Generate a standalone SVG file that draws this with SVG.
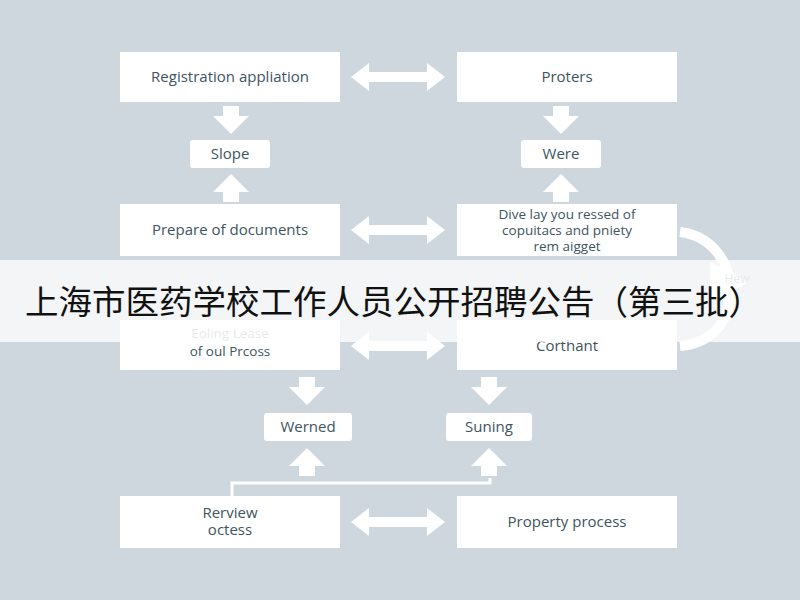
<svg xmlns="http://www.w3.org/2000/svg" width="800" height="600" viewBox="0 0 800 600">
<style>
.b{fill:#fff}
.t{font-family:"Open Sans","Liberation Sans",sans-serif;font-size:15px;fill:#3d5560;text-anchor:middle}
.s{font-size:13.5px}
.a{fill:#fff}
</style>
<defs>
<path id="dn" d="M-8,-16h16v10h10l-18,18l-18,-18h10z"/>
<path id="up" d="M-8,16h16v-10h10l-18,-18l-18,18h10z"/>
<path id="lr" d="M-47,0l18,-14v9h58v-9l18,14l-18,14v-9h-58v9z"/>
</defs>
<rect width="800" height="600" fill="#cfd7de"/>
<g id="connectors">
<use href="#lr" class="a" x="398" y="77"/>
<use href="#lr" class="a" x="398" y="230"/>
<use href="#lr" class="a" x="398" y="346"/>
<use href="#lr" class="a" x="398" y="522"/>
<use href="#dn" class="a" x="231" y="122"/>
<use href="#dn" class="a" x="561" y="122"/>
<use href="#up" class="a" x="231" y="186"/>
<use href="#up" class="a" x="561" y="186"/>
<use href="#dn" class="a" x="307" y="393"/>
<use href="#dn" class="a" x="489" y="393"/>
<use href="#up" class="a" x="307" y="460"/>
<use href="#up" class="a" x="489" y="460"/>
<path d="M232,496V483H490V478" fill="none" stroke="#fff" stroke-width="3"/>
<path d="M680,232C745,240 750,340 680,346" fill="none" stroke="#fff" stroke-width="10"/>
<path d="M710,262l40,20l-40,20z" fill="#fff"/>
<text x="737" y="283" class="t" style="font-size:12px;fill:#9aaab3">Hew</text>
</g>
<g id="n1"><rect class="b" x="120" y="52" width="220" height="50"/><text class="t" x="230" y="82">Registration appliation</text></g>
<g id="n2"><rect class="b" x="457" y="52" width="220" height="50"/><text class="t" x="567" y="82">Proters</text></g>
<g id="n3"><rect class="b" x="190" y="140" width="80" height="28" rx="3"/><text class="t" x="230" y="159">Slope</text></g>
<g id="n4"><rect class="b" x="521" y="140" width="80" height="28" rx="3"/><text class="t" x="561" y="159">Were</text></g>
<g id="n5"><rect class="b" x="120" y="204" width="220" height="52"/><text class="t" x="230" y="235">Prepare of documents</text></g>
<g id="n6"><rect class="b" x="457" y="204" width="220" height="52"/><text class="t s" x="567" y="219">Dive lay you ressed of</text><text class="t s" x="567" y="235">copuitacs and pniety</text><text class="t s" x="567" y="251">rem aigget</text></g>
<g id="n7"><rect class="b" x="120" y="320" width="220" height="50"/><text class="t s" x="230" y="338" style="fill:#9aaab3">Eoling Lease</text><text class="t s" x="230" y="356">of oul Prcoss</text></g>
<g id="n8"><rect class="b" x="457" y="320" width="220" height="50"/><text class="t" x="567" y="351">Corthant</text></g>
<g id="n9"><rect class="b" x="264" y="413" width="88" height="28" rx="3"/><text class="t" x="308" y="432">Werned</text></g>
<g id="n10"><rect class="b" x="446" y="413" width="86" height="28" rx="3"/><text class="t" x="489" y="432">Suning</text></g>
<g id="n11"><rect class="b" x="120" y="496" width="220" height="52"/><text class="t" x="230" y="518">Rerview</text><text class="t" x="230" y="535">octess</text></g>
<g id="n12"><rect class="b" x="457" y="496" width="220" height="52"/><text class="t" x="567" y="527">Property process</text></g>
<g id="banner"><rect x="0" y="260" width="800" height="82" fill="#fff" fill-opacity="0.75"/>
<text x="25" y="314" style="font-family:'Noto Sans CJK SC',sans-serif;font-size:33.5px;fill:#111">上海市医药学校工作人员公开招聘公告（第三批）</text></g>
</svg>
